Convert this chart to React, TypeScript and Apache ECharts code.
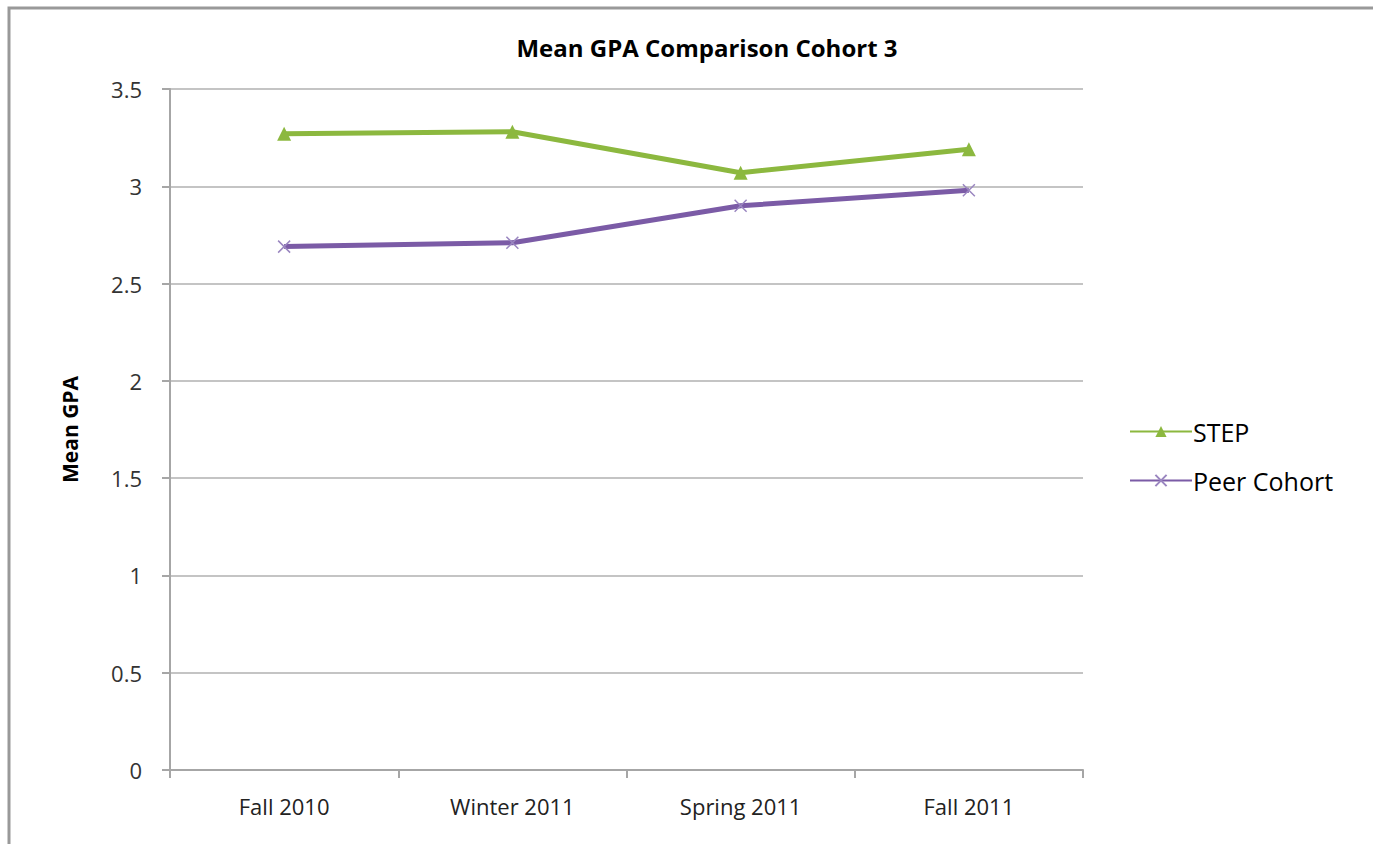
import React, { useEffect, useRef } from "react";
import * as echarts from "echarts";

const categories = ["Fall 2010", "Winter 2011", "Spring 2011", "Fall 2011"];
const stepValues = [3.27, 3.28, 3.07, 3.19];
const peerValues = [2.69, 2.71, 2.90, 2.98];
const seriesNames = ["STEP", "Peer Cohort"];
const yTicks = { min: 0, max: 3.5, interval: 0.5 };

const FONT = "'Open Sans', 'Noto Sans', sans-serif";

export default function App() {
  const ref = useRef<HTMLDivElement>(null);
  useEffect(() => {
    if (!ref.current) return;
    const chart = echarts.init(ref.current, undefined, { renderer: "svg" });
    chart.setOption({
      animation: false,
      backgroundColor: "#ffffff",
      title: {
        text: "Mean GPA Comparison Cohort 3",
        left: 702,
        top: 30,
        textAlign: "center",
        textStyle: { fontFamily: FONT, fontSize: 24, fontWeight: "bold", color: "#000" },
      },
      graphic: [
        {
          type: "rect",
          shape: { x: 9, y: 8, width: 1500, height: 1000 },
          style: { fill: "none", stroke: "#999999", lineWidth: 3 },
          silent: true,
        },
      ],
      legend: {
        orient: "vertical",
        left: 1124,
        top: 414,
        itemGap: 24,
        itemWidth: 62,
        itemHeight: 14,
        textStyle: { fontFamily: FONT, fontSize: 25, color: "#000", padding: [0, 0, 0, -4] },
        data: seriesNames,
      },
      grid: { left: 170, right: 290, top: 89, bottom: 74, containLabel: false },
      xAxis: {
        type: "category",
        data: categories,
        boundaryGap: true,
        axisLine: { lineStyle: { color: "#a6a6a6", width: 2 } },
        axisTick: { show: true, length: 8, lineStyle: { color: "#a6a6a6", width: 2 } },
        axisLabel: { fontFamily: FONT, fontSize: 22, color: "#222", margin: 25 },
      },
      yAxis: {
        type: "value",
        min: yTicks.min,
        max: yTicks.max,
        interval: yTicks.interval,
        name: "Mean GPA",
        nameLocation: "middle",
        nameGap: 90,
        nameTextStyle: { fontFamily: FONT, fontSize: 21, fontWeight: "bold", color: "#000" },
        axisLine: { show: true, lineStyle: { color: "#a6a6a6", width: 2 } },
        axisTick: { show: true, length: 8, lineStyle: { color: "#a6a6a6", width: 2 } },
        axisLabel: {
          fontFamily: FONT,
          fontSize: 22,
          color: "#333",
          margin: 28,
          formatter: (v: number) => String(v),
        },
        splitLine: { show: true, lineStyle: { color: "#c4c4c4", width: 2 } },
      },
      series: [
        {
          name: seriesNames[0],
          type: "line",
          data: stepValues,
          color: "#8cb83f",
          lineStyle: { width: 5, color: "#8cb83f" },
          symbol: "triangle",
          symbolSize: 14,
          itemStyle: { color: "#8cb83f" },
        },
        {
          name: seriesNames[1],
          type: "line",
          data: peerValues,
          color: "#7b5ba6",
          lineStyle: { width: 5, color: "#7b5ba6" },
          symbol: "path://M0,0L10,10M10,0L0,10",
          symbolSize: 12,
          itemStyle: { color: "#7b5ba6", borderColor: "#9a86c0", borderWidth: 1.5 },
        },
      ],
    });
    return () => chart.dispose();
  }, []);
  return (
    <div
      ref={ref}
      style={{ position: "fixed", left: 0, top: 0, width: 1373, height: 844 }}
    />
  );
}
